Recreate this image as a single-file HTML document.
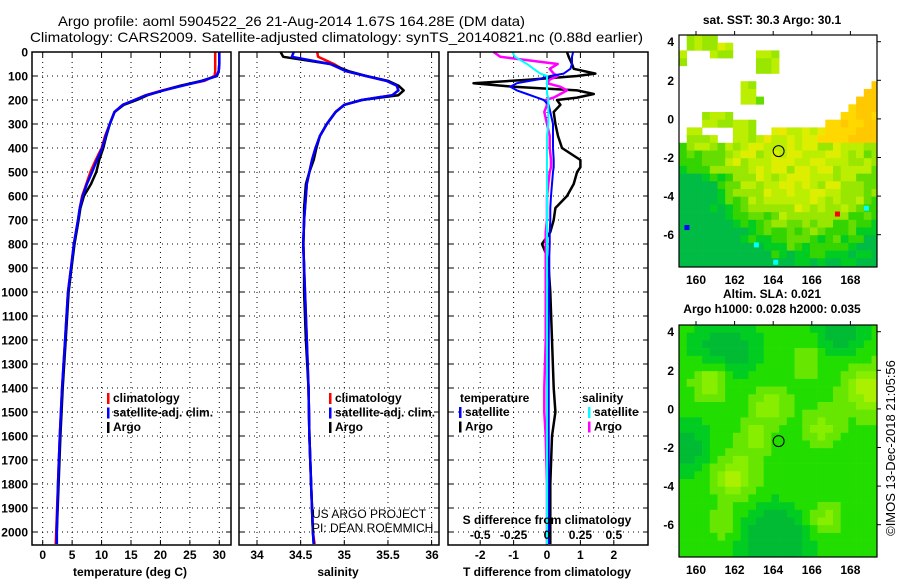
<!DOCTYPE html>
<html><head><meta charset="utf-8"><style>
html,body{margin:0;padding:0;background:#fff;}
svg{display:block;font-family:"Liberation Sans",sans-serif;}
.tk{font-size:12px;font-weight:bold;}
.lg{font-size:12px;font-weight:bold;}
</style></head><body>
<svg id="c" width="900" height="580" viewBox="0 0 900 580">
<text x="58" y="26" font-size="14" textLength="467" lengthAdjust="spacingAndGlyphs">Argo profile: aoml 5904522_26 21-Aug-2014 1.67S 164.28E (DM data)</text>
<text x="30" y="42" font-size="14" textLength="613" lengthAdjust="spacingAndGlyphs">Climatology: CARS2009. Satellite-adjusted climatology: synTS_20140821.nc (0.88d earlier)</text>
<g id="maps"></g>
<g id="plots"></g>
</svg>
<script>
// ---- data ----
const depths   = [0,20,50,80,100,120,140,160,180,200,220,250,300,350,400,450,500,550,600,650,700,800,900,1000,1200,1400,1600,1800,2000,2050];
const tempArgo = [30.0,30.0,30.0,29.9,29.6,27.0,23.5,20.5,17.8,16.0,13.8,12.2,11.4,10.8,10.3,9.6,9.1,8.2,7.0,6.4,6.1,5.4,4.9,4.4,3.9,3.4,3.0,2.7,2.4,2.4];
const tempClim = [29.3,29.3,29.3,29.3,29.2,27.5,23.5,20.3,17.5,15.6,13.6,12.2,11.4,10.6,10.0,9.0,8.1,7.4,6.7,6.3,6.0,5.3,4.8,4.3,3.8,3.3,2.9,2.6,2.3,2.2];
const tempSat  = [30.0,30.0,30.0,29.9,29.5,27.2,23.8,20.5,17.6,15.6,13.6,12.2,11.4,10.7,10.1,9.2,8.4,7.5,6.8,6.3,6.0,5.3,4.8,4.3,3.8,3.3,2.9,2.6,2.4,2.4];
const salArgo  = [34.27,34.3,34.84,35.05,35.25,35.5,35.62,35.68,35.62,35.2,35.0,34.9,34.8,34.72,34.68,34.65,34.6,34.56,34.55,34.54,34.54,34.53,34.54,34.54,34.56,34.59,34.6,34.62,34.64,34.65];
const salClim  = [34.69,34.7,34.88,35.02,35.25,35.48,35.6,35.62,35.55,35.2,35.0,34.9,34.8,34.72,34.67,34.63,34.6,34.57,34.56,34.55,34.54,34.53,34.54,34.55,34.57,34.59,34.6,34.62,34.64,34.66];
const salSat   = [34.42,34.4,34.84,35.02,35.25,35.48,35.6,35.62,35.55,35.2,35.0,34.9,34.8,34.72,34.67,34.63,34.6,34.57,34.56,34.55,34.54,34.53,34.54,34.55,34.57,34.59,34.6,34.62,34.64,34.65];
const diffDepths = [0,20,50,70,90,100,115,130,145,160,175,190,200,220,250,300,350,400,450,480,500,550,600,650,700,750,800,850,900,1000,1200,1400,1500,1600,1800,2000,2050];
const tDiffArgo  = [0.6,0.65,0.75,0.8,1.45,0.9,-0.5,-2.2,-1.0,0.9,1.4,0.9,0.3,0.4,0.2,0.25,0.33,0.45,1.0,1.0,0.9,0.8,0.6,0.25,0.2,0.1,-0.15,0.0,0.05,0.1,0.15,0.2,0.25,0.15,0.1,0.1,0.1];
const tDiffSat   = [0.78,0.75,0.75,0.7,0.5,0.1,-0.3,-0.9,-1.1,-0.9,-0.6,-0.3,-0.1,0.05,0.1,0.18,0.18,0.18,0.2,0.2,0.18,0.15,0.12,0.1,0.1,0.08,0.08,0.07,0.07,0.06,0.05,0.05,0.05,0.05,0.05,0.05,0.05];
const sDiffArgo  = [-0.4,-0.35,0.08,0.02,0.05,0.08,0.02,0.0,0.1,0.15,0.1,0.05,-0.01,0.0,-0.02,0.0,0.02,0.02,0.03,0.03,0.02,0.01,0.0,0.0,0.0,-0.01,-0.01,-0.01,-0.01,-0.01,-0.01,-0.02,-0.02,-0.01,0.0,0.0,0.0];
const sDiffSat   = [-0.26,-0.24,-0.15,-0.1,-0.05,0.0,0.0,0.0,0.0,0.0,0.0,0.01,0.01,0.01,0.01,0.01,0.0,0.0,0.0,0.0,0.0,0.0,0.0,0.0,0.0,0.0,0.0,0.0,0.0,0.0,0.0,0.0,0.0,0.0,0.0,0.0,0.0];
const depthTicks = [0,100,200,300,400,500,600,700,800,900,1000,1100,1200,1300,1400,1500,1600,1700,1800,1900,2000];
const tempTicks = [0,5,10,15,20,25,30];
const salTicks = [34,34.5,35,35.5,36];
const tdTicks = [-2,-1,0,1,2];
const sdTicks = ["-0.5","-0.25","0","0.25","0.5"];
const lonTicks = [160,162,164,166,168];
const latTicks = [4,2,0,-2,-4,-6];
const floatLon = 164.28, floatLat = -1.67;

const NS='http://www.w3.org/2000/svg';
function mk(tag,attrs,parent,name){const e=document.createElementNS(NS,tag);for(const k in attrs)e.setAttribute(k,attrs[k]);


parent.appendChild(e);return e;}
function tx(str,x,y,cls,anchor,parent,name){const t=mk('text',{x:x,y:y,'class':cls,'text-anchor':anchor||'middle'},parent,name);t.textContent=str;return t;}
const plots=document.getElementById('plots');
const TOP=52, BOT=545;
const yD=d=>TOP+d*0.24;

function panel(x0,x1,name){return mk('g',{},plots,name);}
function grid(g,x0,x1,xs){
  depthTicks.forEach(d=>{if(d>0)mk('line',{x1:x0,x2:x1,y1:yD(d),y2:yD(d),stroke:'#000','stroke-width':1,'stroke-dasharray':'1,4'},g,'y-gridline');
    mk('line',{x1:x0,x2:x0+5,y1:yD(d),y2:yD(d),stroke:'#000'},g,'y-tick');mk('line',{x1:x1-5,x2:x1,y1:yD(d),y2:yD(d),stroke:'#000'},g,'y-tick');});
  xs.forEach(x=>{mk('line',{x1:x,x2:x,y1:TOP,y2:BOT,stroke:'#000','stroke-dasharray':'1,4'},g,'x-gridline');
    mk('line',{x1:x,x2:x,y1:BOT-5,y2:BOT,stroke:'#000'},g,'x-tick');mk('line',{x1:x,x2:x,y1:TOP,y2:TOP+5,stroke:'#000'},g,'x-tick');});
}
function frame(g,x0,x1){mk('rect',{x:x0,y:TOP,width:x1-x0,height:BOT-TOP,fill:'none',stroke:'#000','stroke-width':1.5},g,'plot-frame');}
function line(g,xs,ds,xf,color,w,name){
  const pts=xs.map((v,i)=>xf(v).toFixed(1)+','+yD(ds[i]).toFixed(1)).join(' ');
  mk('polyline',{points:pts,fill:'none',stroke:color,'stroke-width':w,'stroke-linejoin':'round'},g,name);
}
function legend(g,x,y,items){items.forEach((it,i)=>{mk('rect',{x:x,y:y+i*14.5-9,width:2.5,height:11,fill:it[1]},g,'legend-swatch');tx(it[0],x+6,y+i*14.5,'lg','start',g,'legend-entry');});}

// Temperature panel
const xT=v=>42.7+(v)*(219.3-42.7)/30;
let g=panel(32,231,'temperature-panel');
grid(g,32,231,tempTicks.map(xT));
line(g,tempClim,depths,xT,'#f00',2.5,'climatology-temp-line');
line(g,tempArgo,depths,xT,'#000',2.5,'argo-temp-line');
line(g,tempSat,depths,xT,'#00f',2.5,'satellite-temp-line');
frame(g,32,231);
depthTicks.forEach(d=>tx(String(d),28,yD(d)+4.5,'tk','end',g,'depth-tick-label'));
tempTicks.forEach(v=>tx(String(v),xT(v),559,'tk','middle',g,'temp-tick-label'));
tx('temperature (deg C)',130,576,'tk','middle',g,'temp-axis-title');
legend(g,107,402,[['climatology','#f00'],['satellite-adj. clim.','#00f'],['Argo','#000']]);

// Salinity panel
const xS=v=>257+(v-34)*87.3;
g=panel(239,439,'salinity-panel');
grid(g,239,439,salTicks.map(xS));
line(g,salClim,depths,xS,'#f00',2.5,'climatology-sal-line');
line(g,salArgo,depths,xS,'#000',2.5,'argo-sal-line');
line(g,salSat,depths,xS,'#00f',2.5,'satellite-sal-line');
frame(g,239,439);
salTicks.forEach(v=>tx(String(v),v===36?432:xS(v),559,'tk','middle',g,'sal-tick-label'));
tx('salinity',338,576,'tk','middle',g,'sal-axis-title');
legend(g,329,402,[['climatology','#f00'],['satellite-adj. clim.','#00f'],['Argo','#000']]);
tx('US ARGO PROJECT',312,518,'','start',g,'project-credit').setAttribute('font-size','12');
tx('PI: DEAN ROEMMICH',312,532,'','start',g,'pi-credit').setAttribute('font-size','12');

// Difference panel
const xDT=v=>547+v*33.4;
const xDS=v=>547+v*4*33.4;
g=panel(448,648,'difference-panel');
grid(g,448,648,tdTicks.map(xDT));
line(g,tDiffArgo,diffDepths,xDT,'#000',2.5,'argo-temp-diff-line');
line(g,sDiffArgo,diffDepths,xDS,'#f0f',2.5,'argo-sal-diff-line');
line(g,tDiffSat,diffDepths,xDT,'#00f',2,'satellite-temp-diff-line');
line(g,sDiffSat,diffDepths,xDS,'#0ff',2,'satellite-sal-diff-line');
frame(g,448,648);
tdTicks.forEach(v=>tx(String(v),xDT(v),559,'tk','middle',g,'tdiff-tick-label'));
sdTicks.forEach((s,i)=>tx(s,xDT(tdTicks[i]),539,'tk','middle',g,'sdiff-tick-label'));
tx('S difference from climatology',547,524,'tk','middle',g,'sdiff-axis-title');
tx('T difference from climatology',547,576,'tk','middle',g,'tdiff-axis-title');
tx('temperature',460,402,'lg','start',g,'legend-title-temperature');
legend(g,459,416,[['satellite','#00f'],['Argo','#000']]);
tx('salinity',582,402,'lg','start',g,'legend-title-salinity');
legend(g,588,416,[['satellite','#0ff'],['Argo','#f0f']]);

// ---- maps ----
const maps=document.getElementById('maps');
const MX0=679,MX1=877;
const lonX=l=>696+(l-160)*19.3;
function latY(top){return v=>top+(4-v)*19.3;}
const PAL=['#00bb44','#00cc22','#33d400','#66dd00','#99e600','#bbee00','#ddee00','#eee800','#ffd800','#ffc800'];
function sstColor(lon,lat){
  const bnd = lon<161.8?-1.3:(lon<164?-1.0:(lon<166.8?-0.3:-0.3+(lon-166.8)*0.9));
  const isl=[[160.3,3.9,0.9,0.35],[159.3,3.0,0.2,0.4],[161.4,3.5,0.7,0.35],[163.9,3.0,0.6,0.6],[162.7,1.3,0.4,0.5],[163.4,0.95,0.3,0.35],[161.1,0.05,0.7,0.4],[162.6,-0.3,0.55,0.45],[159.9,-1.0,0.35,0.6],[160.7,-1.1,0.35,0.35]];
  let inIsl=false;isl.forEach(s=>{if(Math.abs(lon-s[0])<s[2]&&Math.abs(lat-s[1])<s[3])inIsl=true;});
  if(lat>bnd && !inIsl) return null;
  const n=Math.sin(lon*7.3+lat*3.1)*Math.cos(lon*2.9-lat*5.7)+0.5*Math.sin(lon*13.1-lat*11.7);
  const cx=165-(lat+1.5)*0.2;
  let v = 5.6 - ((lon-cx)*(lon-cx))/(lat<-3?5:10) - Math.max(0,-4-lat)*1.4 + n*0.9;
  if(lon<161.5 && lat<-1) v-=0.8;
  if(inIsl) v=4.5+n*0.8;
  if(lon>166.3&&lat>-1.2) v=7.5+(lon-166.3)*0.5+n*0.5;
  v=Math.max(0,Math.min(9,Math.round(v)));
  return PAL[v];
}
function slaColor(lon,lat){
  const bl=[[160.8,1.5,0.7,0.45],[162,-3.5,0.8,0.45],[163.8,0.2,0.7,0.35],[163,-1.5,0.6,0.3],[166.5,-1.0,0.7,0.3],[169,1,0.9,0.5],[166.7,-5.7,0.6,0.3],[165.8,2.5,0.6,0.25],[161.5,-6,0.7,0.2]];
  const dk=[[164,-6.8,1.2,0.5],[161.5,3,1.2,0.35],[167.5,4,1,0.3],[159.5,-2,1,0.3]];
  let v=0.42;bl.forEach(b=>{v+=b[3]*Math.exp(-((lon-b[0])**2+(lat-b[1])**2)/(2*b[2]*b[2]));});
  dk.forEach(b=>{v-=b[3]*Math.exp(-((lon-b[0])**2+(lat-b[1])**2)/(2*b[2]*b[2]));});
  if(v<0.2) return '#00bb33'; if(v<0.33) return '#00cc22'; if(v<0.5) return '#22dd00'; if(v<0.65) return '#66e600'; if(v<0.8) return '#88ee00'; return '#aaf000';
}
function drawMap(top,bot,colorFn,name,title1,title2){
  const gm=mk('g',{},maps,name);
  const yL=latY(top+6.7);
  const cs=7.7;
  for(let x=MX0;x<MX1;x+=cs){for(let y=top;y<bot;y+=cs){
    const lon=160+(x+cs/2-696)/19.3, lat=4-(y+cs/2-(top+6.7))/19.3;
    const c=colorFn(lon,lat); if(!c) continue;
    mk('rect',{x:x.toFixed(1),y:y.toFixed(1),width:Math.min(cs+0.3,MX1-x),height:Math.min(cs+0.3,bot-y),fill:c},gm,'map-cell');
  }}
  mk('circle',{cx:lonX(floatLon),cy:yL(floatLat),r:5.5,fill:'none',stroke:'#000','stroke-width':1},gm,'float-location-marker');
  mk('rect',{x:MX0,y:top,width:MX1-MX0,height:bot-top,fill:'none',stroke:'#000','stroke-width':1.2},gm,'map-frame');
  lonTicks.forEach(l=>{mk('line',{x1:lonX(l),x2:lonX(l),y1:top,y2:top-4,stroke:'#000'},gm,'lon-tick');
    tx(String(l),lonX(l),bot+17,'tk','middle',gm,'lon-tick-label');});
  latTicks.forEach(l=>{mk('line',{x1:MX1,x2:MX1+4,y1:yL(l),y2:yL(l),stroke:'#000'},gm,'lat-tick');
    tx(String(l),674,yL(l)+4.5,'tk','end',gm,'lat-tick-label');});
  tx(title1,772,title2?top-27:top-11,'tk','middle',gm,'map-title');
  if(title2) tx(title2,772,top-12,'tk','middle',gm,'map-subtitle');
  return gm;
}
drawMap(35,267,sstColor,'sst-map','sat. SST: 30.3 Argo: 30.1');
drawMap(325,557,slaColor,'sla-map','Altim. SLA: 0.021','Argo h1000: 0.028 h2000: 0.035');
const sp=[[167.2,-4.8,'#f00'],[168.7,-4.5,'#0ff'],[159.4,-5.5,'#00f'],[164.0,-7.3,'#0ff'],[163.0,-6.4,'#0ff']];
sp.forEach(p=>mk('rect',{x:lonX(p[0]),y:latY(41.7)(p[1]),width:5,height:5,fill:p[2]},maps,'sst-highlight-pixel'));
const cr=tx('©IMOS 13-Dec-2018 21:05:56',0,0,'','middle',maps,'imos-credit');
cr.setAttribute('font-size','13');cr.setAttribute('transform','translate(895,448) rotate(-90)');
</script>
</body></html>
